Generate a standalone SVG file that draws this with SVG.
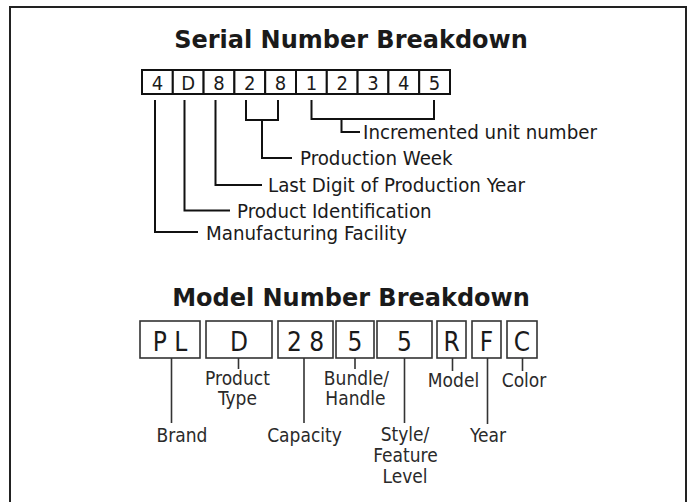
<svg xmlns="http://www.w3.org/2000/svg" width="693" height="502" viewBox="0 0 693 502">
<style>
.title{font-family:"DejaVu Sans",Verdana,sans-serif;font-weight:bold;font-size:24px;fill:#1a1a1a;text-anchor:middle}
.lbl{font-family:"DejaVu Sans Condensed","DejaVu Sans",sans-serif;font-size:20.3px;fill:#1a1a1a}
.mlbl{font-family:"DejaVu Sans Condensed","DejaVu Sans",sans-serif;font-size:19px;fill:#2a2a2a;text-anchor:middle}
.dig{font-family:"DejaVu Sans Condensed","DejaVu Sans",sans-serif;font-size:20px;fill:#1a1a1a;text-anchor:middle}
.mdig{font-family:"DejaVu Sans Condensed","DejaVu Sans",sans-serif;font-size:26px;fill:#1a1a1a;text-anchor:middle}
.sbox{fill:#fff;stroke:#111;stroke-width:2}
.mbox{fill:#fff;stroke:#333;stroke-width:1.6}
.sline{fill:none;stroke:#111;stroke-width:2}
.mline{fill:none;stroke:#333;stroke-width:1.6}
</style>
<rect width="693" height="502" fill="#fff"/>
<path d="M10,503 V7 H686 V503" fill="none" stroke="#222" stroke-width="2"/>
<text class="title" x="351" y="48">Serial Number Breakdown</text>
<g id="serial-digits">
<rect class="sbox" x="142" y="70" width="30.8" height="24"/><text class="dig" x="157.4" y="89.5">4</text>
<rect class="sbox" x="172.8" y="70" width="30.8" height="24"/><text class="dig" x="188.2" y="89.5">D</text>
<rect class="sbox" x="203.6" y="70" width="30.8" height="24"/><text class="dig" x="219" y="89.5">8</text>
<rect class="sbox" x="234.4" y="70" width="30.8" height="24"/><text class="dig" x="249.8" y="89.5">2</text>
<rect class="sbox" x="265.2" y="70" width="30.8" height="24"/><text class="dig" x="280.6" y="89.5">8</text>
<rect class="sbox" x="296" y="70" width="30.8" height="24"/><text class="dig" x="311.4" y="89.5">1</text>
<rect class="sbox" x="326.8" y="70" width="30.8" height="24"/><text class="dig" x="342.2" y="89.5">2</text>
<rect class="sbox" x="357.6" y="70" width="30.8" height="24"/><text class="dig" x="373" y="89.5">3</text>
<rect class="sbox" x="388.4" y="70" width="30.8" height="24"/><text class="dig" x="403.8" y="89.5">4</text>
<rect class="sbox" x="419.2" y="70" width="30.8" height="24"/><text class="dig" x="434.6" y="89.5">5</text>
</g>
<g id="serial-connectors">
<path class="sline" d="M155,100 V232 H198"/>
<path class="sline" d="M184.5,100 V210.5 H230"/>
<path class="sline" d="M215.5,100 V185 H262"/>
<path class="sline" d="M246,100 V120 H278 V100 M262,120 V158 H292"/>
<path class="sline" d="M311.5,100 V119 H434 V100 M341.5,119 V132 H360"/>
</g>
<g id="serial-labels">
<text class="lbl" x="363" y="139">Incremented unit number</text>
<text class="lbl" x="300" y="165">Production Week</text>
<text class="lbl" x="268" y="192">Last Digit of Production Year</text>
<text class="lbl" x="237" y="218">Product Identification</text>
<text class="lbl" x="206" y="240">Manufacturing Facility</text>
</g>
<text class="title" x="351" y="306">Model Number Breakdown</text>
<g id="model-boxes">
<rect class="mbox" x="140" y="321" width="60" height="37"/><text class="mdig" x="170" y="351">P L</text>
<rect class="mbox" x="206" y="321" width="66" height="37"/><text class="mdig" x="239" y="351">D</text>
<rect class="mbox" x="278" y="321" width="55" height="37"/><text class="mdig" x="305.5" y="351">2 8</text>
<rect class="mbox" x="336" y="321" width="38" height="37"/><text class="mdig" x="355" y="351">5</text>
<rect class="mbox" x="377" y="321" width="55" height="37"/><text class="mdig" x="404.5" y="351">5</text>
<rect class="mbox" x="437" y="321" width="29" height="37"/><text class="mdig" x="451.5" y="351">R</text>
<rect class="mbox" x="472" y="321" width="29" height="37"/><text class="mdig" x="486.5" y="351">F</text>
<rect class="mbox" x="507" y="321" width="30" height="37"/><text class="mdig" x="522" y="351">C</text>
</g>
<g id="model-connectors">
<path class="mline" d="M171.5,358 V423"/>
<path class="mline" d="M238.5,358 V369"/>
<path class="mline" d="M304,358 V423"/>
<path class="mline" d="M355,358 V369"/>
<path class="mline" d="M404.5,358 V423"/>
<path class="mline" d="M452.5,358 V371"/>
<path class="mline" d="M487.5,358 V424"/>
<path class="mline" d="M522.5,358 V371"/>
</g>
<g id="model-labels">
<text class="mlbl" x="182" y="442">Brand</text>
<text class="mlbl" x="237.5" y="385">Product</text>
<text class="mlbl" x="237.5" y="405">Type</text>
<text class="mlbl" x="304.5" y="442">Capacity</text>
<text class="mlbl" x="356.5" y="385">Bundle/</text>
<text class="mlbl" x="355.5" y="405">Handle</text>
<text class="mlbl" x="405" y="441">Style/</text>
<text class="mlbl" x="405.5" y="462">Feature</text>
<text class="mlbl" x="405" y="483">Level</text>
<text class="mlbl" x="453.5" y="387">Model</text>
<text class="mlbl" x="488" y="442">Year</text>
<text class="mlbl" x="524" y="387">Color</text>
</g>
</svg>
